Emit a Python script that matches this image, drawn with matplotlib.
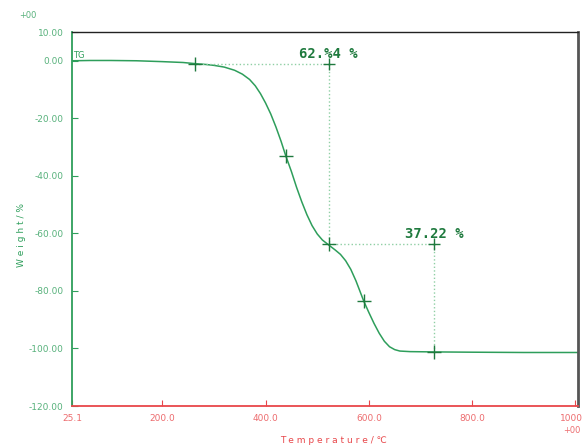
import matplotlib
matplotlib.use("Agg")
import matplotlib.pyplot as plt

# TG curve
temp = [25.1, 60, 100, 150, 200, 240, 264, 285, 300, 320, 340, 355, 369, 380, 390,
        400, 410, 420, 430, 439, 450, 460, 470, 480, 490, 500, 510, 522, 535, 545,
        555, 565, 575, 590, 600, 610, 620, 630, 640, 650, 660, 680, 726, 800, 900, 1005]
weight = [0.0, 0.1, 0.1, 0.0, -0.3, -0.6, -1.0, -1.3, -1.6, -2.2, -3.3, -4.65, -6.5,
          -8.7, -11.4, -14.7, -18.5, -23.0, -28.0, -33.0, -38.5, -44.0, -49.0, -53.5,
          -57.3, -60.2, -62.3, -64.0, -65.8, -67.3, -69.5, -72.5, -76.5, -83.5, -87.5,
          -91.3, -94.7, -97.5, -99.4, -100.4, -100.9, -101.1, -101.2, -101.3, -101.4,
          -101.4]

# step markers and analysis points
mark_t = [264, 439, 522, 590, 726]
mark_w = [-1.2, -33.0, -63.8, -83.5, -101.1]
step1_t = [264, 522]
step1_w = [-1.2, -63.8]
step2_t = [522, 726]
step2_w = [-63.8, -101.1]
step_labels = ["62.%4 %", "37.22 %"]

xticks = [25.1, 200, 400, 600, 800, 1000]
xlabels = ["25.1", "200.0", "400.0", "600.0", "800.0", "1000.0"]
yticks = [10, 0, -20, -40, -60, -80, -100, -120]
ylabels = ["10.00", "0.00", "-20.00", "-40.00", "-60.00", "-80.00", "-100.00", "-120.00"]

green = "#2e9e5b"
dark = "#1f7a3e"
red = "#e8474a"
guide = "#8fcfa4"

fig = plt.figure(figsize=(5.82, 4.48), dpi=100)
ax = fig.add_axes([72 / 582, 42 / 448, 506 / 582, 374 / 448])

ax.plot(temp, weight, color=green, lw=1.1)

# guide lines for the two steps
for ts, ws in [(step1_t, step1_w), (step2_t, step2_w)]:
    ax.plot([ts[0], ts[1]], [ws[0], ws[0]], ls=":", color=guide, lw=1.0)
    ax.plot([ts[1], ts[1]], [ws[0], ws[1]], ls=":", color=guide, lw=1.0)
    ax.plot([ts[1]], [ws[0]], marker="+", ms=9, mew=1.0, color=dark, ls="none")

ax.plot(mark_t, mark_w, marker="+", ms=10, mew=1.0, color=dark, ls="none")

ax.text(step1_t[1], step1_w[0] + 1.0, step_labels[0], color=dark, fontsize=10,
        fontweight="heavy", family="DejaVu Sans Mono", ha="center", va="bottom")
ax.text(step2_t[1], step2_w[0] + 1.0, step_labels[1], color=dark, fontsize=10,
        fontweight="heavy", family="DejaVu Sans Mono", ha="center", va="bottom")

ax.text(27, 0.4, "TG", color=green, fontsize=6, va="bottom", ha="left")

ax.set_xlim(25.1, 1005)
ax.set_ylim(-120, 10)
ax.set_xticks(xticks)
ax.set_xticklabels(xlabels)
ax.set_yticks(yticks)
ax.set_yticklabels(ylabels)
ax.tick_params(axis="x", direction="in", colors=red, labelsize=6.5, length=4, pad=6)
ax.tick_params(axis="y", direction="in", colors=green, labelsize=6.5, length=4, pad=6)
for lab in ax.get_xticklabels() + ax.get_yticklabels():
    lab.set_alpha(0.8)

ax.spines["left"].set_color(green)
ax.spines["left"].set_linewidth(1.3)
ax.spines["bottom"].set_color(red)
ax.spines["bottom"].set_linewidth(1.3)
ax.spines["top"].set_color("#222222")
ax.spines["top"].set_linewidth(1.0)
ax.spines["right"].set_color("#555555")
ax.spines["right"].set_linewidth(2.0)

fig.text(333 / 582, 1 - 440 / 448, "T e m p e r a t u r e / ℃", color=red,
         fontsize=6.5, ha="center", va="center")
fig.text(22 / 582, 1 - 235 / 448, "W e i g h t / %", color=green, fontsize=6.5,
         rotation=90, ha="center", va="center")
fig.text(28 / 582, 1 - 16 / 448, "+00", color=green, fontsize=6, ha="center",
         va="center", alpha=0.8)
fig.text(581 / 582, 1 - 430 / 448, "+00", color=red, fontsize=6, ha="right",
         va="center", alpha=0.8)

fig.savefig("out.png", dpi=100)
